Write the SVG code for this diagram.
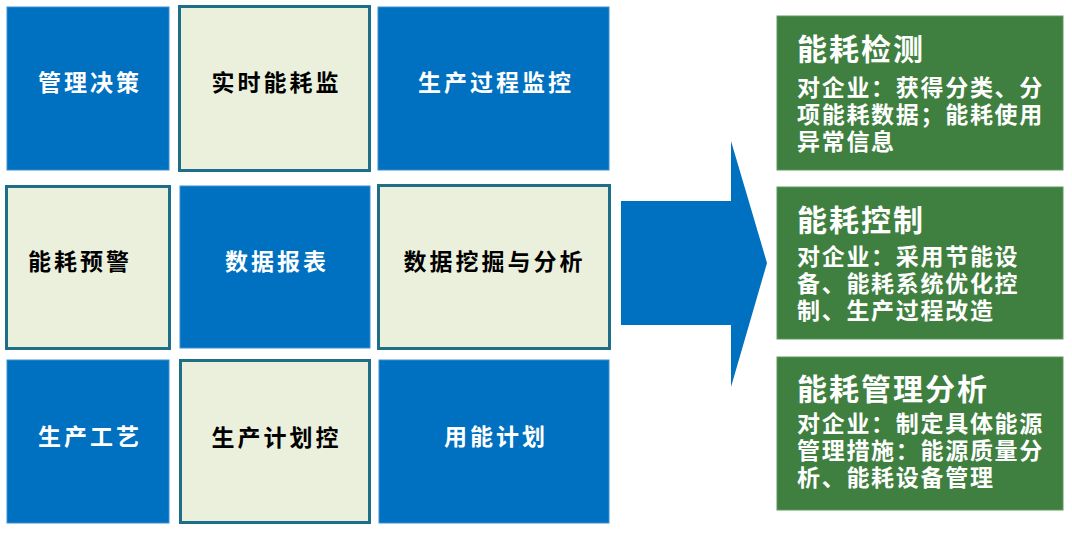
<svg xmlns="http://www.w3.org/2000/svg" width="1072" height="533" viewBox="0 0 1072 533">
<style>
.blue{fill:#0070C0;stroke:#3d8fd0;stroke-width:1}
.beige{fill:#EBF0DD;stroke:#1E6E88;stroke-width:3}
.green{fill:#3F7F3F;stroke:#5f9a5f;stroke-width:1}
.t{font-family:"Noto Sans CJK SC","Noto Sans",sans-serif;font-weight:bold;font-size:23px;letter-spacing:3px;text-anchor:middle}
.w{fill:#FFFFFF}
.k{fill:#000000}
.gt{font-family:"Noto Sans CJK SC","Noto Sans",sans-serif;font-weight:bold;fill:#FFFFFF}
.h{font-size:30px;letter-spacing:2px}
.b{font-size:23px;letter-spacing:1.7px}
</style>
<rect width="1072" height="533" fill="#FFFFFF"/>
<g id="n1"><rect class="blue" x="7" y="7" width="162" height="163"/><text class="t w" x="90" y="91">管理决策</text></g>
<g id="n2"><rect class="beige" x="179.5" y="6.5" width="190" height="164"/><text class="t k" x="276.5" y="91">实时能耗监</text></g>
<g id="n3"><rect class="blue" x="378" y="7" width="231" height="163"/><text class="t w" x="496" y="91">生产过程监控</text></g>
<g id="n4"><rect class="beige" x="6.5" y="186.5" width="163" height="162"/><text class="t k" x="80" y="270">能耗预警</text></g>
<g id="n5"><rect class="blue" x="180" y="186" width="190" height="162"/><text class="t w" x="277" y="270">数据报表</text></g>
<g id="n6"><rect class="beige" x="378.5" y="185.5" width="231" height="163"/><text class="t k" x="494.5" y="270">数据挖掘与分析</text></g>
<g id="n7"><rect class="blue" x="7" y="360" width="162" height="163"/><text class="t w" x="90" y="445">生产工艺</text></g>
<g id="n8"><rect class="beige" x="180.5" y="360.5" width="189" height="162"/><text class="t k" x="276.5" y="446">生产计划控</text></g>
<g id="n9"><rect class="blue" x="379" y="360" width="230" height="163"/><text class="t w" x="496" y="445">用能计划</text></g>
<g id="connectors"><polygon points="621,201 731,201 731,141 767,263 731,387 731,325 621,325" fill="#0070C0"/></g>
<g id="g1"><rect class="green" x="777" y="16" width="286" height="154"/>
<text class="gt h" x="797" y="60">能耗检测</text>
<text class="gt b" x="797" y="96">对企业：获得分类、分</text>
<text class="gt b" x="797" y="123">项能耗数据；能耗使用</text>
<text class="gt b" x="797" y="150">异常信息</text></g>
<g id="g2"><rect class="green" x="777" y="187" width="286" height="152"/>
<text class="gt h" x="797" y="231">能耗控制</text>
<text class="gt b" x="797" y="265">对企业：采用节能设</text>
<text class="gt b" x="797" y="292">备、能耗系统优化控</text>
<text class="gt b" x="797" y="319">制、生产过程改造</text></g>
<g id="g3"><rect class="green" x="777" y="357" width="286" height="153"/>
<text class="gt h" x="797" y="400">能耗管理分析</text>
<text class="gt b" x="797" y="432">对企业：制定具体能源</text>
<text class="gt b" x="797" y="459">管理措施：能源质量分</text>
<text class="gt b" x="797" y="486">析、能耗设备管理</text></g>
</svg>
